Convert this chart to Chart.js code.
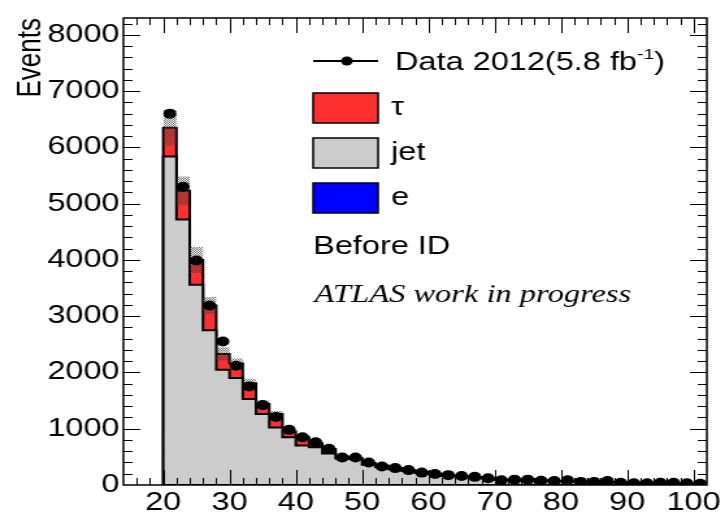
<!DOCTYPE html>
<html>
<head>
<meta charset="utf-8">
<script src="https://cdn.jsdelivr.net/npm/chart.js@4.4.0/dist/chart.umd.min.js"></script>
<style>
  html, body { margin: 0; padding: 0; background: #fff; }
</style>
</head>
<body>
<!-- the original plot is stretched sideways, so the canvas is too -->
<canvas id="chart" width="558" height="515" style="display:block;width:725px;height:515px"></canvas>
<script>
const binEdges = [20, 22, 24, 26, 28, 30, 32, 34, 36, 38, 40, 42, 44, 46, 48, 50, 52, 54, 56, 58, 60,
    62, 64, 66, 68, 70, 72, 74, 76, 78, 80, 82, 84, 86, 88, 90, 92, 94, 96, 98, 100, 102];

const dataCounts = [6600, 5300, 3990, 3190, 2550, 2120, 1750, 1420, 1210, 980, 850, 760, 645, 490, 490,
    400, 330, 300, 265, 220, 195, 175, 160, 145, 120, 85, 95, 95, 75, 70, 85, 55, 55, 70, 40, 30, 30, 40, 40, 30, 20];
const jetCounts = [5840, 4720, 3560, 2750, 2050, 1900, 1530, 1260, 1020, 850, 700, 670, 560, 470, 460,
    360, 320, 280, 250, 215, 190, 160, 152, 134, 115, 90, 86, 82, 75, 67, 62, 58, 53, 50, 46, 42, 39, 36, 33, 30, 28];
const tauCounts = [510, 510, 440, 440, 280, 260, 280, 180, 240, 100, 150, 70, 80, 30, 20,
    30, 20, 20, 10, 15, 10, 10, 8, 6, 5, 5, 4, 3, 3, 3, 3, 2, 2, 2, 2, 2, 1, 1, 1, 1, 1];
const eCounts = [0, 0, 0, 0, 0, 0, 0, 0, 0, 0, 0, 0, 0, 0, 0, 0, 0, 0, 0, 0, 0,
    0, 0, 0, 0, 0, 0, 0, 0, 0, 0, 0, 0, 0, 0, 0, 0, 0, 0, 0, 0];
const mcErrors = [315, 255, 230, 150, 117, 90, 80, 60, 55, 45, 40, 35, 30, 25, 22,
    20, 18, 16, 14, 13, 12, 11, 10, 9, 8, 7, 7, 6, 6, 6, 5, 5, 5, 5, 4, 4, 4, 4, 4, 3, 3];

const xTicks = [20, 30, 40, 50, 60, 70, 80, 90, 100];
const yTicks = [0, 1000, 2000, 3000, 4000, 5000, 6000, 7000, 8000];
const xMinorStep = 2;
const yMinorStep = 200;

Chart.defaults.font.family = '"Liberation Sans", Arial, sans-serif';
Chart.defaults.color = '#000';

// stacked sums, bottom to top: e, jet, tau
const eStack = eCounts.slice();
const jetStack = jetCounts.map((v, i) => v + eCounts[i]);
const totalStack = tauCounts.map((v, i) => v + jetStack[i]);

function stepPoints(values) {
    const pts = [{ x: binEdges[0], y: 0 }];
    values.forEach((v, i) => pts.push({ x: binEdges[i], y: v }));
    pts.push({ x: binEdges[binEdges.length - 1], y: 0 });
    return pts;
}

function bandPoints(values) {
    const pts = values.map((v, i) => ({ x: binEdges[i], y: v }));
    pts.push({ x: binEdges[binEdges.length - 1], y: values[values.length - 1] });
    return pts;
}

function makeHatch() {
    const c = document.createElement('canvas');
    c.width = 2;
    c.height = 2;
    const g = c.getContext('2d');
    g.fillStyle = 'rgba(60,60,60,0.75)';
    g.fillRect(0, 0, 1, 1);
    g.fillRect(1, 1, 1, 1);
    return g.createPattern(c, 'repeat');
}

const histStyle = {
    type: 'line',
    stepped: true,
    fill: 'origin',
    borderColor: '#000',
    borderWidth: 2,
    pointRadius: 0
};

const framePlugin = {
    id: 'rootFrame',
    afterDatasetsDraw(chart) {
        const { ctx, chartArea: a, scales: { x, y } } = chart;
        ctx.save();
        ctx.strokeStyle = '#000';
        ctx.lineWidth = 1;
        ctx.beginPath();
        for (let v = Math.ceil(x.min / xMinorStep) * xMinorStep; v <= x.max; v += xMinorStep) {
            const px = Math.round(x.getPixelForValue(v)) + 0.5;
            if (px <= a.left + 1 || px >= a.right - 1) continue;
            const len = xTicks.includes(v) ? 15 : 7;
            ctx.moveTo(px, a.bottom); ctx.lineTo(px, a.bottom - len);
            ctx.moveTo(px, a.top); ctx.lineTo(px, a.top + len);
        }
        for (let v = 0; v <= y.max; v += yMinorStep) {
            const py = Math.round(y.getPixelForValue(v)) + 0.5;
            if (py <= a.top + 1 || py >= a.bottom - 1) continue;
            const len = yTicks.includes(v) ? 13 : 7;
            ctx.moveTo(a.left, py); ctx.lineTo(a.left + len, py);
            ctx.moveTo(a.right, py); ctx.lineTo(a.right - len, py);
        }
        ctx.stroke();
        ctx.lineWidth = 1.5;
        ctx.strokeRect(a.left, a.top, a.right - a.left, a.bottom - a.top);
        ctx.restore();
    }
};

const legendPlugin = {
    id: 'atlasLegend',
    afterDraw(chart) {
        const ctx = chart.ctx;
        ctx.save();
        ctx.fillStyle = '#000';
        ctx.strokeStyle = '#000';
        ctx.textBaseline = 'middle';

        ctx.lineWidth = 2;
        ctx.beginPath();
        ctx.moveTo(241, 61);
        ctx.lineTo(291, 61);
        ctx.stroke();
        ctx.beginPath();
        ctx.arc(267, 61, 4.5, 0, Math.PI * 2);
        ctx.fill();

        ctx.font = '25px "Liberation Sans"';
        let tx = 304;
        ctx.fillText('Data 2012(5.8 fb', tx, 63);
        tx += ctx.measureText('Data 2012(5.8 fb').width;
        ctx.font = '15px "Liberation Sans"';
        ctx.fillText('-1', tx, 55);
        tx += ctx.measureText('-1').width;
        ctx.font = '25px "Liberation Sans"';
        ctx.fillText(')', tx, 63);

        const boxes = [
            { label: 'τ', color: '#ff3030', top: 93 },
            { label: 'jet', color: '#cccccc', top: 138 },
            { label: 'e', color: '#0000ff', top: 183 }
        ];
        ctx.lineWidth = 1.5;
        boxes.forEach(b => {
            ctx.fillStyle = b.color;
            ctx.fillRect(241, b.top, 50, 30);
            ctx.strokeRect(241, b.top, 50, 30);
            ctx.fillStyle = '#000';
            ctx.fillText(b.label, 301, b.top + 15);
        });

        ctx.fillText('Before ID', 241, 247);
        ctx.font = 'italic 25px "Liberation Serif"';
        ctx.fillText('ATLAS work in progress', 242, 295);
        ctx.restore();
    }
};

const ctx = document.getElementById('chart').getContext('2d');

new Chart(ctx, {
    type: 'line',
    plugins: [framePlugin, legendPlugin],
    data: {
        datasets: [
            {
                label: 'Data 2012(5.8 fb-1)',
                data: dataCounts.map((v, i) => ({ x: (binEdges[i] + binEdges[i + 1]) / 2, y: v })),
                showLine: false,
                pointRadius: 5,
                pointBackgroundColor: '#000',
                pointBorderWidth: 0,
                order: 1
            },
            {
                label: 'MC uncertainty',
                data: bandPoints(totalStack.map((v, i) => v + mcErrors[i])),
                stepped: true,
                fill: '+1',
                backgroundColor: makeHatch(),
                borderWidth: 0,
                pointRadius: 0,
                order: 2
            },
            {
                label: 'MC uncertainty low',
                data: bandPoints(totalStack.map((v, i) => v - mcErrors[i])),
                stepped: true,
                fill: false,
                borderWidth: 0,
                pointRadius: 0,
                order: 2
            },
            { ...histStyle, label: 'e', data: stepPoints(eStack), backgroundColor: '#0000ff', order: 3 },
            { ...histStyle, label: 'jet', data: stepPoints(jetStack), backgroundColor: '#cccccc', order: 4 },
            { ...histStyle, label: 'τ', data: stepPoints(totalStack), backgroundColor: '#ff3030', order: 5 }
        ]
    },
    options: {
        responsive: false,
        animation: false,
        devicePixelRatio: 1,
        layout: { padding: { top: 12, right: 14, left: 0, bottom: 0 } },
        plugins: {
            legend: { display: false },
            tooltip: { enabled: false }
        },
        scales: {
            x: {
                type: 'linear',
                min: 14,
                max: 102,
                grid: { display: false, drawTicks: false },
                border: { display: false },
                afterBuildTicks: scale => { scale.ticks = xTicks.map(v => ({ value: v })); },
                afterFit: scale => { scale.height = 30; },
                ticks: {
                    font: { size: 25 },
                    padding: 3,
                    maxRotation: 0,
                    autoSkip: false,
                    callback: v => String(v)
                }
            },
            y: {
                min: 0,
                max: 8300,
                grid: { display: false, drawTicks: false },
                border: { display: false },
                afterBuildTicks: scale => { scale.ticks = yTicks.map(v => ({ value: v })); },
                afterFit: scale => { scale.width = 95; },
                ticks: {
                    font: { size: 25 },
                    padding: 3,
                    callback: v => String(v)
                },
                title: {
                    display: true,
                    text: 'Events',
                    align: 'end',
                    font: { size: 26 },
                    padding: { top: 8, bottom: 0 }
                }
            }
        }
    }
});
</script>
</body>
</html>
